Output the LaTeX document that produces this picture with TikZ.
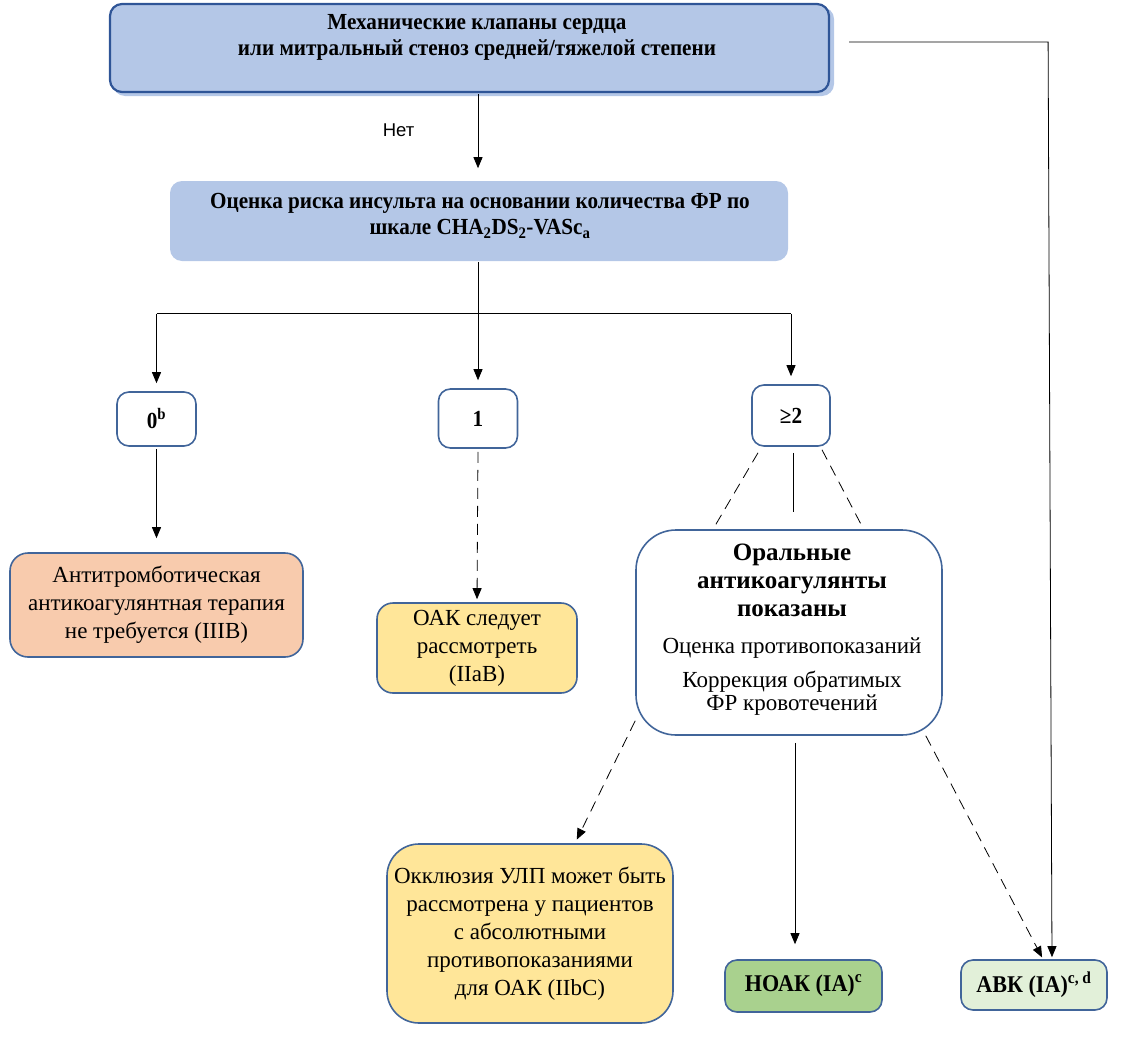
\documentclass[tikz,border=0pt]{standalone}
\usepackage{fontspec}
\setmainfont{Liberation Serif}
\newfontfamily\sansf{Liberation Sans}
\newfontfamily\condf{Liberation Serif}[FakeStretch=0.92]
\usetikzlibrary{calc,arrows.meta}
\definecolor{lblue}{HTML}{B4C7E7}
\definecolor{bord}{HTML}{41659A}
\definecolor{dbord}{HTML}{2F5597}
\definecolor{peach}{HTML}{F8CBAD}
\definecolor{yel}{HTML}{FFE699}
\definecolor{grn}{HTML}{A9D18E}
\definecolor{lgrn}{HTML}{E2F0D9}
\tikzset{
  box/.style={draw=bord, line width=1.6pt, rounded corners=12pt, inner sep=0pt, align=center},
  btxt/.style={align=center, font=\condf\bfseries\fontsize{23}{26.5}\selectfont},
  numtxt/.style={font=\condf\bfseries\fontsize{23}{26}\selectfont},
  rtxt/.style={align=center, font=\fontsize{23}{28}\selectfont},
  arr/.style={-{Triangle[length=11pt,width=9pt]}, line width=0.8pt},
  ln/.style={line width=0.8pt},
  dsh/.style={line width=0.8pt, dash pattern=on 11pt off 7pt}
}
\begin{document}
\begin{tikzpicture}[x=1pt,y=-1pt]
\useasboundingbox (0,0) rectangle (1141,1063);
% top box with glow
\fill[lblue, rounded corners=12pt] (113,7) rectangle (834,96);
\node[box, draw=dbord, line width=2.2pt, fill=lblue, minimum width=719pt, minimum height=88pt] (top) at (469.5,48) {};
\node[btxt] (toptext) at (477,37.5) {Механические клапаны сердца\\или митральный стеноз средней/тяжелой степени};
% second box
\node[box, draw=none, fill=lblue, minimum width=618pt, minimum height=80pt] (second) at (479,221) {};
\node[btxt] (sectext) at (480,216) {Оценка риска инсульта на основании количества ФР по\\шкале CHA\textsubscript{2}DS\textsubscript{2}-VASc\textsubscript{a}};
\node[font=\sansf\fontsize{18.5}{20}\selectfont] (net) at (398.5,130) {Нет};
% score boxes
\node[box, minimum width=79pt, minimum height=54pt, numtxt] (b0) at (156.5,419) {0\textsuperscript{b}};
\node[box, minimum width=79pt, minimum height=59pt, numtxt] (b1) at (478,418.5) {1};
\node[box, minimum width=78pt, minimum height=61pt, numtxt] (b2) at (791,415.5) {≥2};
% outcome boxes
\node[box, fill=peach, minimum width=293pt, minimum height=104pt, rtxt, rounded corners=18pt] (anti) at (156.5,605) {Антитромботическая\\антикоагулянтная терапия\\не требуется (IIIB)};
\node[box, fill=yel, minimum width=200pt, minimum height=90pt, rtxt, rounded corners=16pt] (oak) at (477,648) {ОАК следует\\рассмотреть\\(IIaB)};
\node[box, fill=white, minimum width=306pt, minimum height=205pt, rounded corners=40pt] (big) at (789,632.5) {};
\node[rtxt] (bigtext) at (792,630) {{\bfseries\fontsize{25}{28}\selectfont Оральные}\\{\bfseries\fontsize{25}{28}\selectfont антикоагулянты}\\{\bfseries\fontsize{25}{28}\selectfont показаны}\\[9pt]Оценка противопоказаний\\[6pt]Коррекция обратимых\\[-5pt]ФР кровотечений};
\node[box, fill=yel, minimum width=286pt, minimum height=179pt, rtxt, rounded corners=32pt] (occ) at (530,933.5) {Окклюзия УЛП может быть\\рассмотрена у пациентов\\с абсолютными\\противопоказаниями\\для ОАК (IIbC)};
\node[box, fill=grn, minimum width=157pt, minimum height=52pt, font=\condf\bfseries\fontsize{24}{26}\selectfont] (noak) at (803.5,986) {НОАК (IA)\textsuperscript{c}};
\node[box, fill=lgrn, minimum width=146pt, minimum height=50pt, font=\condf\bfseries\fontsize{24}{26}\selectfont] (avk) at (1034,985) {АВК (IA)\textsuperscript{c, d}};
% connectors
\coordinate (nx) at (795,0);
\draw[arr, shorten <=1pt, shorten >=12pt] (top.south -| b1.north) -- (second.north -| b1.north);
\coordinate (junc) at ($(second.south -| b1.north)+(0,52)$);
\draw[ln] (second.south -| b1.north) -- (junc);
\draw[ln] (junc -| b0.north) -- (junc -| b2.north);
\draw[arr, shorten >=8pt] (junc -| b0.north) -- (b0.north);
\draw[arr, shorten >=8pt] (junc) -- (b1.north);
\draw[arr, shorten >=8pt] (junc -| b2.north) -- (b2.north);
\draw[arr, shorten <=2pt, shorten >=14pt] (b0.south) -- (anti.north);
\draw[dsh, -{Triangle[length=11pt,width=9pt]}, shorten <=3pt, shorten >=3pt] (b1.south) -- (oak.north);
\draw[dsh] ($(b2.south)+(-33,6)$) -- ($(big.north)+(-76,0)$);
\draw[ln] ($(b2.south)+(2,6)$) -- ($(big.north)+(4,-17)$);
\draw[dsh] ($(b2.south)+(31,3)$) -- ($(big.north)+(73,-3)$);
\draw[dsh, -{Triangle[length=11pt,width=9pt]}, shorten >=4pt] ($(big.south west)+(0,-15)$) -- ($(occ.north)+(45,0)$);
\draw[arr, shorten <=7pt, shorten >=15pt] (big.south -| nx) -- (noak.north -| nx);
\draw[dsh, -{Triangle[length=11pt,width=9pt]}, shorten >=2pt] ($(big.south east)+(-17,0)$) -- ($(avk.north)+(9,0)$);
\coordinate (corner) at ($(top.east)+(218,-6)$);
\draw[arr, shorten >=2pt] ($(top.east)+(19,-6)$) -- (corner) -- ($(avk.north)+(18,0)$);
\end{tikzpicture}
\end{document}
